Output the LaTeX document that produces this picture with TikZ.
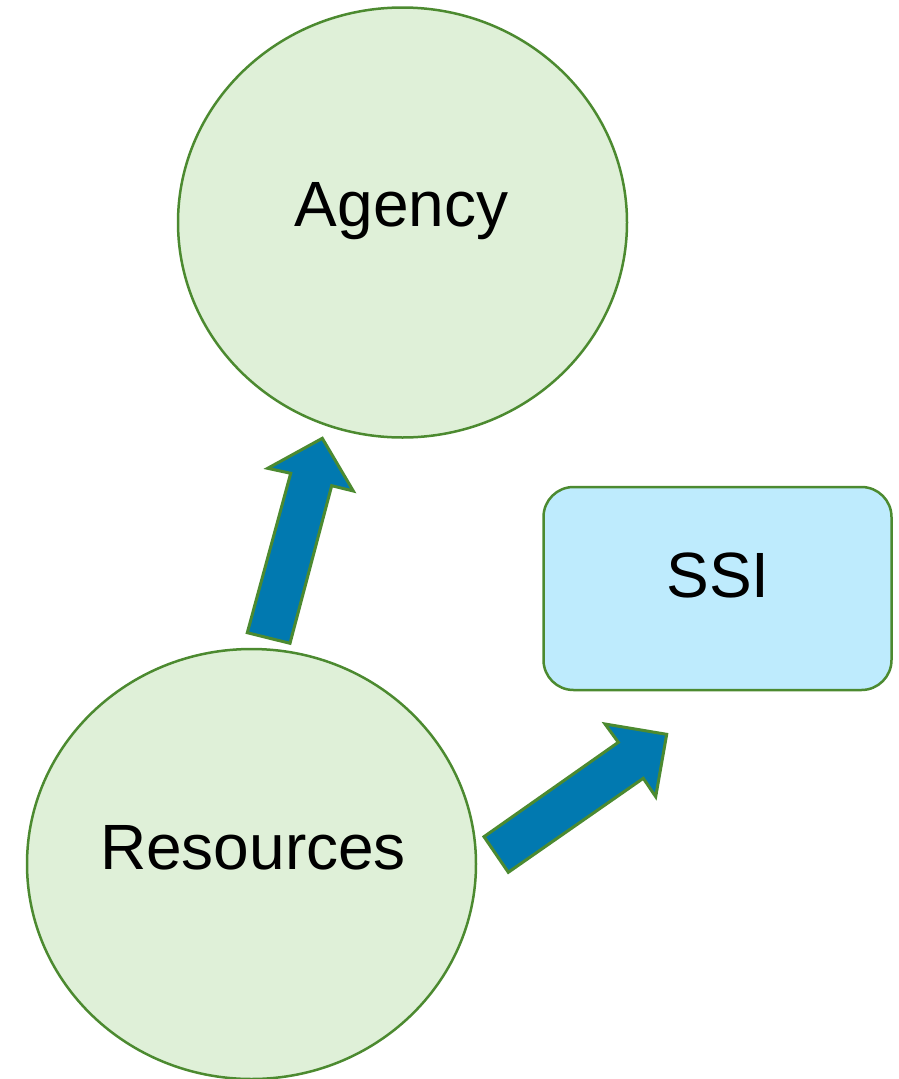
\documentclass[tikz,border=0pt]{standalone}
\usepackage{fontspec}
\setmainfont{Liberation Sans}
\usetikzlibrary{shapes.geometric}
\definecolor{edgegreen}{HTML}{4C8A30}
\definecolor{fillgreen}{HTML}{DFF0D8}
\definecolor{fillblue}{HTML}{BEEBFD}
\definecolor{arrowblue}{HTML}{0179B0}
\tikzset{
  blob/.style={ellipse, draw=edgegreen, fill=fillgreen, line width=2.5pt,
    minimum width=449pt, minimum height=430pt, inner sep=0pt},
  boxnode/.style={draw=edgegreen, fill=fillblue, line width=2.5pt,
    rounded corners=30pt, minimum width=348pt, minimum height=203pt, inner sep=0pt},
  lbl/.style={anchor=base, inner sep=0pt, font=\fontsize{64}{76}\selectfont},
  blockarrow/.style={draw=edgegreen, fill=arrowblue, line width=3pt, line join=miter}
}
\begin{document}
\begin{tikzpicture}[x=1pt, y=-1pt]
\useasboundingbox (0,0) rectangle (899,1079);
\node[blob] (agency) at (402.5,222.5) {};
\node[blob] (resources) at (251.5,864) {};
\node[boxnode] (ssi) at (717.5,588.5) {};
\node[lbl] (agencytxt) at (401.5,226) {Agency};
\node[lbl] (resourcestxt) at (253,869) {Resources};
\node[lbl] (ssitxt) at (718,597) {SSI};
% arrow from Resources towards Agency
\draw[blockarrow] (247.3,632.7) -- (290.7,473.3) -- (267.7,468.3) -- (322.3,438.3)
  -- (353.3,491) -- (331.7,485.7) -- (290,643.3) -- cycle;
% arrow from Resources towards SSI
\draw[blockarrow] (484,836.7) -- (618.3,742.3) -- (605,724) -- (666.7,734.3)
  -- (655.7,796.7) -- (643.3,778.3) -- (508.3,872.3) -- cycle;
\end{tikzpicture}
\end{document}
